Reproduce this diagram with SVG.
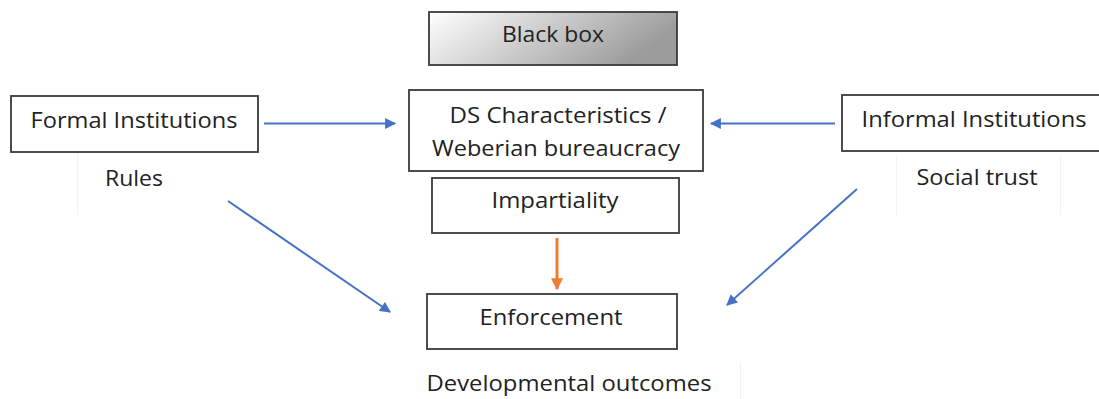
<svg xmlns="http://www.w3.org/2000/svg" width="1099" height="399" viewBox="0 0 1099 399">
<style>
.box{fill:#ffffff;stroke:#3a3a3a;stroke-width:1.8}
.t{font-family:"Open Sans","Liberation Sans",sans-serif;font-size:21px;fill:#222222;text-anchor:middle}
.c{stroke:#4472c4;stroke-width:2;fill:none}
.o{stroke:#ed7d31;stroke-width:3;fill:none}
.faint{stroke:#f2f2f2;stroke-width:1}
</style>
<defs>
<linearGradient id="g" x1="0" y1="0" x2="1" y2="0.3">
<stop offset="0" stop-color="#ffffff"/>
<stop offset="1" stop-color="#9c9c9c"/>
</linearGradient>
<marker id="abig" viewBox="0 0 10 10" refX="9" refY="5" markerWidth="13" markerHeight="11" orient="auto" markerUnits="userSpaceOnUse">
<path d="M0,0 L10,5 L0,10 z" fill="#4472c4"/>
</marker>
<marker id="ao" viewBox="0 0 10 10" refX="9" refY="5" markerWidth="12" markerHeight="13" orient="auto" markerUnits="userSpaceOnUse">
<path d="M0,0 L10,5 L0,10 z" fill="#ed7d31"/>
</marker>
</defs>
<rect width="1099" height="399" fill="#ffffff"/>
<g id="faint-lines">
<line class="faint" x1="77.5" y1="152" x2="77.5" y2="215"/>
<line class="faint" x1="896.5" y1="155" x2="896.5" y2="215"/>
<line class="faint" x1="1060.5" y1="155" x2="1060.5" y2="215"/>
<line class="faint" x1="740.5" y1="362" x2="740.5" y2="399"/>
</g>
<g id="connectors">
<line class="c" x1="264" y1="123.5" x2="395" y2="123.5" marker-end="url(#abig)"/>
<line class="c" x1="835" y1="123.5" x2="711" y2="123.5" marker-end="url(#abig)"/>
<line class="c" x1="228" y1="201" x2="390" y2="312" marker-end="url(#abig)"/>
<line class="c" x1="857" y1="189" x2="727" y2="305" marker-end="url(#abig)"/>
<line class="o" x1="557" y1="238" x2="557" y2="289" marker-end="url(#ao)"/>
</g>
<g id="black-box">
<rect x="429" y="12" width="248" height="53" fill="url(#g)" stroke="#3a3a3a" stroke-width="1.8"/>
<text class="t" x="553" y="42" textLength="102" lengthAdjust="spacingAndGlyphs">Black box</text>
</g>
<g id="ds-characteristics">
<rect class="box" x="409" y="90" width="294" height="81"/>
<text class="t" x="558" y="123" textLength="217" lengthAdjust="spacingAndGlyphs">DS Characteristics /</text>
<text class="t" x="556" y="156" textLength="248" lengthAdjust="spacingAndGlyphs">Weberian bureaucracy</text>
</g>
<g id="impartiality">
<rect class="box" x="432" y="178" width="247" height="55"/>
<text class="t" x="555" y="208" textLength="127" lengthAdjust="spacingAndGlyphs">Impartiality</text>
</g>
<g id="formal-institutions">
<rect class="box" x="11" y="96" width="247" height="56"/>
<text class="t" x="134" y="128" textLength="207" lengthAdjust="spacingAndGlyphs">Formal Institutions</text>
<text class="t" x="134" y="186" textLength="58" lengthAdjust="spacingAndGlyphs">Rules</text>
</g>
<g id="informal-institutions">
<rect class="box" x="842" y="95" width="260" height="56"/>
<text class="t" x="974" y="127" textLength="225" lengthAdjust="spacingAndGlyphs">Informal Institutions</text>
<text class="t" x="977" y="185" textLength="121" lengthAdjust="spacingAndGlyphs">Social trust</text>
</g>
<g id="enforcement">
<rect class="box" x="427" y="294" width="250" height="55"/>
<text class="t" x="551" y="325" textLength="143" lengthAdjust="spacingAndGlyphs">Enforcement</text>
</g>
<g id="developmental-outcomes">
<text class="t" x="569" y="391" textLength="285" lengthAdjust="spacingAndGlyphs">Developmental outcomes</text>
</g>
</svg>
